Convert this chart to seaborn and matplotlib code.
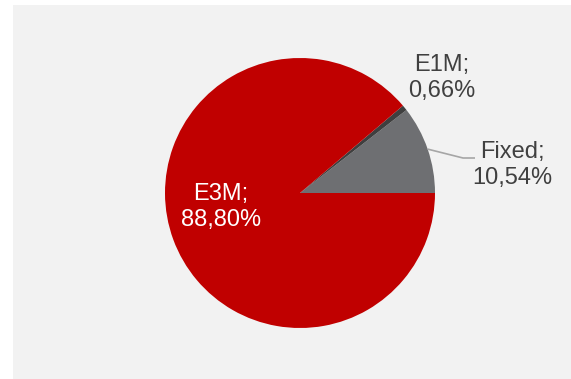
import matplotlib
matplotlib.use("Agg")
import matplotlib.pyplot as plt
import seaborn as sns
import numpy as np
from matplotlib.patches import Rectangle

sns.set_theme(style="white")
plt.rcParams["font.family"] = ["Liberation Sans", "DejaVu Sans"]

# Share of the portfolio by rate type
categories = ["Fixed", "E1M", "E3M"]
shares = [10.54, 0.66, 88.80]
colors = ["#6e6f72", "#3f3f3f", "#c00000"]

W, H = 571, 379
fig = plt.figure(figsize=(W / 100, H / 100), dpi=100, facecolor="white")

# light grey panel behind the chart
panel = Rectangle((13 / W, 0), 1 - 13 / W, 1 - 5 / H,
                  transform=fig.transFigure, facecolor="#f2f2f2",
                  edgecolor="none", zorder=-10)
fig.add_artist(panel)

cx, cy, r = 300, 193, 135
ax = fig.add_axes([(cx - r) / W, (H - cy - r) / H, 2 * r / W, 2 * r / H])
ax.set_zorder(1)
ax.set_facecolor("none")
ax.patch.set_alpha(0)
ax.axis("off")

wedges, _ = ax.pie(shares, colors=colors, startangle=0, counterclock=True,
                   radius=1, wedgeprops=dict(linewidth=0))
ax.set_xlim(-1, 1)
ax.set_ylim(-1, 1)


def fmt(name, v):
    return f"{name};\n{v:.2f}%".replace(".", ",")


def px(x, y):
    return (x - cx) / r, (cy - y) / r


label_pos = {"Fixed": (512, 165), "E1M": (442, 78), "E3M": (221, 207)}
label_col = {"Fixed": "#404040", "E1M": "#404040", "E3M": "white"}

for name, v in zip(categories, shares):
    x, y = px(*label_pos[name])
    ax.text(x, y, fmt(name, v), ha="center", va="center", fontsize=17,
            color=label_col[name], linespacing=1.2, clip_on=False)

# leader line for the Fixed label
w = wedges[0]
mid = np.deg2rad((w.theta1 + w.theta2) / 2)
p0 = (np.cos(mid), np.sin(mid))
p1 = px(463, 158)
p2 = px(475, 158)
ax.plot([p0[0], p1[0], p2[0]], [p0[1], p1[1], p2[1]], color="#a6a6a6",
        lw=1.2, clip_on=False, solid_capstyle="butt")

fig.savefig("out.png", dpi=100, facecolor="white")
